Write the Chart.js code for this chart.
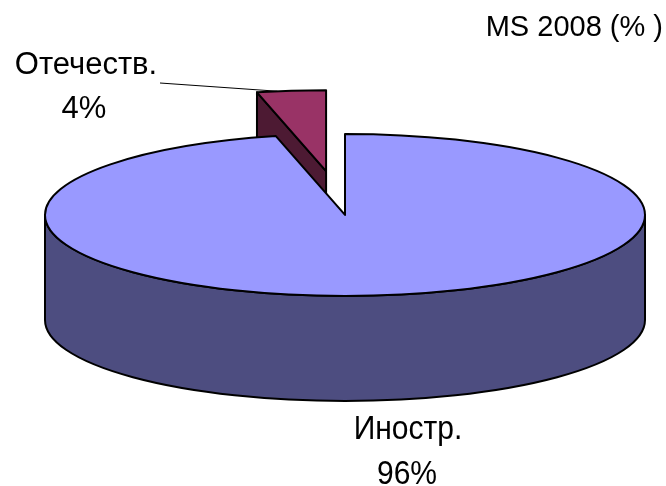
<!DOCTYPE html>
<html>
<head>
<meta charset="utf-8">
<script src="https://cdn.jsdelivr.net/npm/chart.js@4.4.1/dist/chart.umd.min.js"></script>
<style>
  html, body { margin: 0; padding: 0; background: #fff; }
  #wrap { width: 666px; height: 486px; }
</style>
</head>
<body>
<div id="wrap"><canvas id="share"></canvas></div>
<script>
const labels = ["Иностр.", "Отечеств."]
const shares = [96.3, 3.7]
const title = "MS 2008 (% )"

const topColors = ["#9999ff", "#993366"]
const sideColors = ["#4d4d80", "#4d1a33"]

// look of the tilted pie, in screen px
const RX = 300
const RY = 81
const DEPTH = 105

function projector(el, R) {
  const off = el.options.offset || 0
  const mid = (el.startAngle + el.endAngle) / 2
  const ox = Math.cos(mid) * off
  const oy = Math.sin(mid) * off
  return {
    cx: el.x + ox * RX / R,
    cy: el.y + oy * RY / R,
    pt(a, z) {
      return [this.cx + Math.cos(a) * RX, this.cy + Math.sin(a) * RY + z]
    }
  }
}

function fillStroke(ctx, color) {
  ctx.fillStyle = color
  ctx.fill()
  ctx.strokeStyle = "#000"
  ctx.lineWidth = 2
  ctx.lineJoin = "round"
  ctx.stroke()
}

function label(ctx, text, x, y, size, sx) {
  ctx.save()
  ctx.translate(x, y)
  ctx.scale(sx, 1)
  ctx.font = size + "px 'Liberation Sans', Arial, sans-serif"
  ctx.fillText(text, 0, 0)
  ctx.restore()
}

const pie3d = {
  id: "pie3d",
  beforeDatasetsDraw(chart) {
    const ctx = chart.ctx
    const arcs = chart.getDatasetMeta(0).data
    const R = arcs[0].outerRadius
    let order = arcs.map((el, i) => ({el, i, p: projector(el, R)}))
    order.sort((a, b) => a.p.cy - b.p.cy)
    order.forEach(({el, i, p}) => {
      const s = el.startAngle, e = el.endAngle
      // front wall
      for (let k = -1; k <= 1; k++) {
        const a = Math.max(s, 2 * Math.PI * k), b = Math.min(e, 2 * Math.PI * k + Math.PI)
        if (b - a <= 1e-6) continue
        ctx.beginPath()
        ctx.ellipse(p.cx, p.cy, RX, RY, 0, a, b)
        const [bx, by] = p.pt(b, DEPTH)
        ctx.lineTo(bx, by)
        ctx.ellipse(p.cx, p.cy + DEPTH, RX, RY, 0, b, a, true)
        ctx.closePath()
        fillStroke(ctx, sideColors[i])
      }
      // cut faces
      const faces = []
      if (Math.cos(s) < -1e-6) faces.push(s)
      if (Math.cos(e) > 1e-6) faces.push(e)
      faces.forEach(a => {
        const [x1, y1] = p.pt(a, 0)
        const [x2, y2] = p.pt(a, DEPTH)
        ctx.beginPath()
        ctx.moveTo(p.cx, p.cy)
        ctx.lineTo(x1, y1)
        ctx.lineTo(x2, y2)
        ctx.lineTo(p.cx, p.cy + DEPTH)
        ctx.closePath()
        fillStroke(ctx, sideColors[i])
      })
      // top
      ctx.beginPath()
      ctx.moveTo(p.cx, p.cy)
      ctx.ellipse(p.cx, p.cy, RX, RY, 0, s, e)
      ctx.closePath()
      fillStroke(ctx, topColors[i])
    })
    return false
  },
  afterDraw(chart) {
    const ctx = chart.ctx
    const arcs = chart.getDatasetMeta(0).data
    const R = arcs[0].outerRadius
    const total = shares.reduce((a, b) => a + b, 0)
    const pct = i => Math.round(shares[i] / total * 100) + "%"
    ctx.save()
    ctx.fillStyle = "#000"
    ctx.textAlign = "center"
    ctx.textBaseline = "alphabetic"
    label(ctx, labels[0], 408, 439, 33, 0.91)
    label(ctx, pct(0), 407, 484, 33, 0.91)
    label(ctx, labels[1], 86, 74, 31, 1)
    label(ctx, pct(1), 84, 118, 31, 1)
    // leader line for the small slice
    const el = arcs[1]
    const p = projector(el, R)
    const [lx, ly] = p.pt(el.startAngle + (el.endAngle - el.startAngle) * 0.3, 0)
    ctx.beginPath()
    ctx.moveTo(160, 83)
    ctx.lineTo(lx, ly)
    ctx.strokeStyle = "#000"
    ctx.lineWidth = 1
    ctx.stroke()
    ctx.restore()
  }
}

new Chart(document.getElementById("share"), {
  type: "pie",
  data: {
    labels: labels,
    datasets: [{
      data: shares,
      backgroundColor: topColors,
      borderWidth: 0,
      offset: [0, 68]
    }]
  },
  options: {
    responsive: true,
    maintainAspectRatio: false,
    animation: false,
    layout: {
      padding: {left: 27, right: 3, top: 0, bottom: 112}
    },
    plugins: {
      legend: {display: false},
      tooltip: {enabled: false},
      title: {
        display: true,
        text: title,
        align: "end",
        color: "#000",
        font: {family: "'Liberation Sans', Arial, sans-serif", size: 29, weight: "normal"},
        padding: {top: 11, bottom: 10}
      }
    }
  },
  plugins: [pie3d]
})
</script>
</body>
</html>
